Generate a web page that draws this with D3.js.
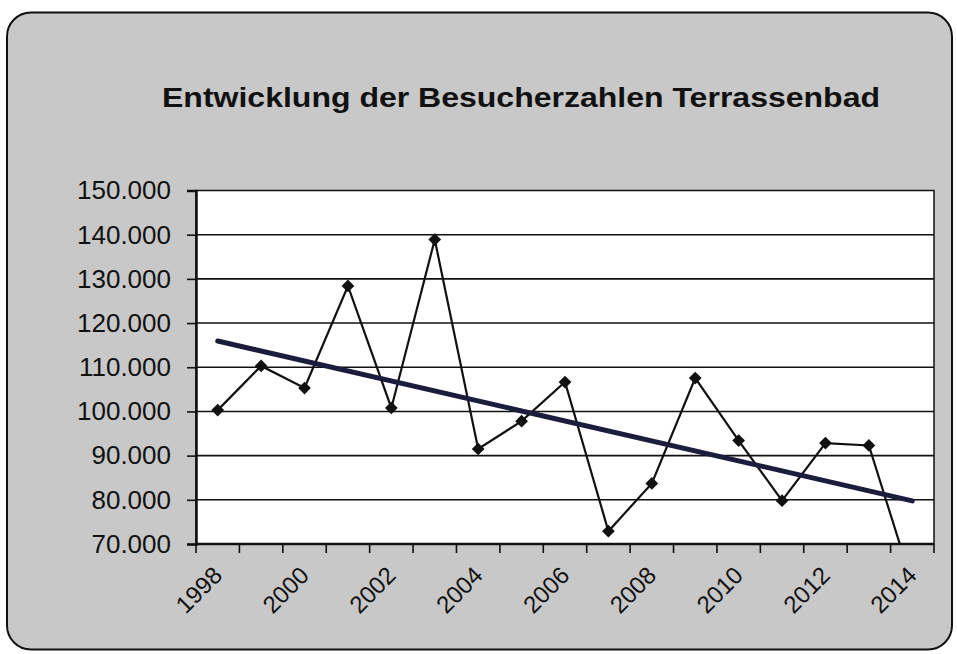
<!DOCTYPE html>
<html>
<head>
<meta charset="utf-8">
<script src="https://cdn.jsdelivr.net/npm/d3@7"></script>
<style>
  body { margin: 0; background: #fff; }
  svg { display: block; font-family: 'Liberation Sans', Arial, sans-serif; }
</style>
</head>
<body>
<svg id="chart" width="957" height="654"></svg>
<script>
// Besucherzahlen pro Jahr
const years = ['1998', '1999', '2000', '2001', '2002', '2003', '2004', '2005', '2006',
  '2007', '2008', '2009', '2010', '2011', '2012', '2013', '2014']
const visitors = [100300, 110300, 105300, 128400, 100800, 138900, 91500, 97800, 106650,
  72900, 83700, 107550, 93400, 79800, 92850, 92300, 61000]
const yTicks = [70000, 80000, 90000, 100000, 110000, 120000, 130000, 140000, 150000]
const xLabels = ['1998', '2000', '2002', '2004', '2006', '2008', '2010', '2012', '2014']
const title = 'Entwicklung der Besucherzahlen Terrassenbad'

const svg = d3.select('#chart')
const plot = { left: 196, top: 190.5, right: 934, bottom: 544 }

// Rahmen
svg.append('rect')
  .attr('x', 7).attr('y', 12.5)
  .attr('width', 945).attr('height', 637)
  .attr('rx', 24)
  .attr('fill', '#c8c8c8')
  .attr('stroke', '#111').attr('stroke-width', 2)

svg.append('text')
  .attr('x', 521).attr('y', 107)
  .attr('text-anchor', 'middle')
  .attr('font-size', 27).attr('font-weight', 'bold')
  .attr('fill', '#111')
  .attr('textLength', 718).attr('lengthAdjust', 'spacingAndGlyphs')
  .text(title)

const x = d3.scaleBand().domain(years).range([plot.left, plot.right])
const y = d3.scaleLinear().domain([70000, 150000]).range([plot.bottom, plot.top])

svg.append('rect')
  .attr('x', plot.left).attr('y', plot.top)
  .attr('width', plot.right - plot.left).attr('height', plot.bottom - plot.top)
  .attr('fill', '#fff')
  .attr('stroke', '#111').attr('stroke-width', 1.5)

// Gitterlinien
svg.append('g')
  .selectAll('line')
  .data(yTicks.slice(1, -1))
  .enter().append('line')
  .attr('x1', plot.left).attr('x2', plot.right)
  .attr('y1', d => y(d)).attr('y2', d => y(d))
  .attr('stroke', '#111').attr('stroke-width', 1.6)

const fmt = d3.formatLocale({ decimal: ',', thousands: '.', grouping: [3], currency: ['', '€'] }).format(',')

const yAxis = svg.append('g')
  .attr('transform', 'translate(' + plot.left + ',0)')
  .call(d3.axisLeft(y).tickValues(yTicks).tickFormat(fmt).tickSize(9).tickPadding(16))
yAxis.select('.domain').attr('stroke', '#111').attr('stroke-width', 2.5)
yAxis.selectAll('.tick line').attr('stroke', '#111').attr('stroke-width', 1.6)
yAxis.selectAll('text').attr('font-size', 26).attr('fill', '#111')
  .attr('font-family', "'Liberation Sans', Arial, sans-serif")

// x-Achse: Striche zwischen den Kategorien
const bounds = years.map(d => x(d)).concat([plot.right])
const xAxis = svg.append('g')
xAxis.append('line')
  .attr('x1', plot.left).attr('x2', plot.right)
  .attr('y1', plot.bottom).attr('y2', plot.bottom)
  .attr('stroke', '#111').attr('stroke-width', 2.5)
xAxis.selectAll('.tk')
  .data(bounds)
  .enter().append('line')
  .attr('class', 'tk')
  .attr('x1', d => d).attr('x2', d => d)
  .attr('y1', plot.bottom).attr('y2', plot.bottom + 9)
  .attr('stroke', '#111').attr('stroke-width', 1.6)
xAxis.selectAll('.lbl')
  .data(xLabels)
  .enter().append('text')
  .attr('class', 'lbl')
  .attr('transform', d => 'translate(' + (x(d) + x.bandwidth() / 2 - 6) + ',' + (plot.bottom + 21) + ') rotate(-45)')
  .attr('text-anchor', 'end')
  .attr('dy', '0.7em')
  .attr('font-size', 24).attr('fill', '#111')
  .text(d => d)

svg.append('clipPath').attr('id', 'clip')
  .append('rect')
  .attr('x', plot.left).attr('y', plot.top)
  .attr('width', plot.right - plot.left).attr('height', plot.bottom - plot.top)

const cx = d => x(d) + x.bandwidth() / 2
const pts = years.map((d, i) => [cx(d), y(visitors[i])])

const g = svg.append('g').attr('clip-path', 'url(#clip)')
g.append('path')
  .attr('d', d3.line()(pts))
  .attr('fill', 'none')
  .attr('stroke', '#111').attr('stroke-width', 2.2)

g.selectAll('.pt')
  .data(pts.filter(p => p[1] <= plot.bottom))
  .enter().append('path')
  .attr('class', 'pt')
  .attr('transform', p => 'translate(' + p[0] + ',' + p[1] + ') rotate(45)')
  .attr('d', 'M-4.5,-4.5H4.5V4.5H-4.5Z')
  .attr('fill', '#111')

// linearer Trend (wie Excel)
const n = visitors.length
const meanI = d3.mean(visitors, (v, i) => i)
const meanV = d3.mean(visitors)
const slope = d3.sum(visitors, (v, i) => (i - meanI) * (v - meanV)) / d3.sum(visitors, (v, i) => (i - meanI) * (i - meanI))
const trend = [0, n - 1].map(i => [cx(years[i]), y(meanV + slope * (i - meanI))])

svg.append('path')
  .attr('d', d3.line()(trend))
  .attr('fill', 'none')
  .attr('stroke', '#1c1c3c').attr('stroke-width', 5)
  .attr('stroke-linecap', 'round')
</script>
</body>
</html>
